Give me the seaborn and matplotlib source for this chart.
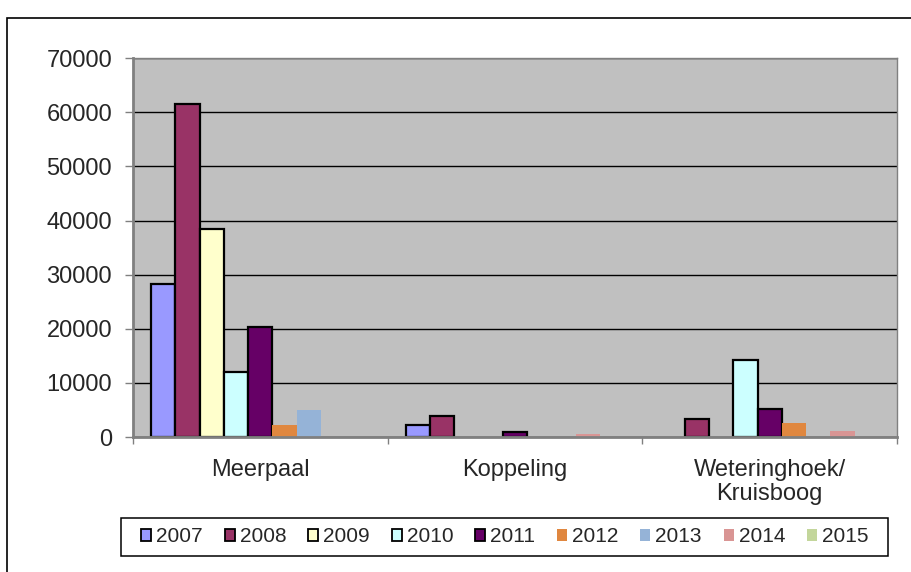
import matplotlib
matplotlib.use("Agg")
import matplotlib.pyplot as plt
from matplotlib.patches import Rectangle, Patch
import seaborn as sns
import pandas as pd

sns.set_style("white")
plt.rcParams['font.family'] = ['Liberation Sans', 'DejaVu Sans']

categories = ["Meerpaal", "Koppeling", "Weteringhoek/\nKruisboog"]
years = ["2007", "2008", "2009", "2010", "2011", "2012", "2013", "2014", "2015"]
v2007 = [28200, 2200, 0]
v2008 = [61600, 3900, 3300]
v2009 = [38400, 0, 0]
v2010 = [12100, 0, 14200]
v2011 = [20300, 900, 5100]
v2012 = [2200, 0, 2500]
v2013 = [5000, 0, 0]
v2014 = [0, 500, 1100]
v2015 = [0, 0, 0]
series = [v2007, v2008, v2009, v2010, v2011, v2012, v2013, v2014, v2015]
colors = ["#9999FF", "#993366", "#FFFFCC", "#CCFFFF", "#660066",
          "#E0873F", "#95B3D7", "#D99594", "#C3D69B"]
edged = [True, True, True, True, True, False, False, False, False]

rows = []
for y, vals in zip(years, series):
    for c, v in zip(categories, vals):
        rows.append({"cat": c, "year": y, "value": v})
df = pd.DataFrame(rows)

W, H = 911, 572
fig = plt.figure(figsize=(9.11, 5.72), dpi=100)
ax = fig.add_axes([133/W, 1-437/H, (897-133)/W, (437-58.3)/H])

sns.barplot(data=df, x="cat", y="value", hue="year", order=categories,
            hue_order=years, palette=colors, width=9/10.5, saturation=1,
            ax=ax, legend=False, errorbar=None)

for cont, e in zip(ax.containers, edged):
    for bar in cont:
        if e and bar.get_height() > 0:
            bar.set_edgecolor("black")
            bar.set_linewidth(1.6)
        else:
            bar.set_edgecolor("none")
            bar.set_linewidth(0)

ax.set_facecolor("#C0C0C0")
ax.set_ylim(0, 70000)
ax.set_xlim(-0.5, 2.5)
ax.set_yticks(range(0, 70001, 10000))
ax.yaxis.grid(True, color="black", linewidth=1)
ax.set_axisbelow(True)
ax.set_xlabel("")
ax.set_ylabel("")
ax.tick_params(axis="y", labelsize=17, length=6, width=1, color="#808080", pad=9, left=True)
ax.tick_params(axis="x", labelsize=17, length=0, pad=16)
ax.set_xticks([-0.5, 0.5, 1.5, 2.5], minor=True)
ax.tick_params(axis="x", which="minor", length=5, width=1, color="#808080", bottom=True)
for lab in ax.get_xticklabels():
    lab.set_linespacing(1.1)
for s in ["left", "bottom"]:
    ax.spines[s].set_color("#808080")
    ax.spines[s].set_linewidth(2)
for s in ["top", "right"]:
    ax.spines[s].set_color("#808080")
    ax.spines[s].set_linewidth(1)

handles = [Patch(facecolor=c, edgecolor=("black" if e else "none"), linewidth=(1.3 if e else 0))
           for c, e in zip(colors, edged)]
leg = fig.legend(handles, years, loc="center", ncol=9,
                 bbox_to_anchor=(505/W, 1-537/H), fontsize=15,
                 handlelength=0.48, handleheight=0.48, handletextpad=0.24,
                 columnspacing=1.05, frameon=False)

fig.patches.append(Rectangle((121/W, 1-556/H), (888-121)/W, 38/H,
                             transform=fig.transFigure, fill=False,
                             edgecolor="black", linewidth=1.1))

fig.patches.append(Rectangle((7/W, -0.05), 1.0, 1-18/H+0.05,
                             transform=fig.transFigure, fill=False,
                             edgecolor="black", linewidth=1.2, clip_on=False))

fig.savefig("out.png", dpi=100)
